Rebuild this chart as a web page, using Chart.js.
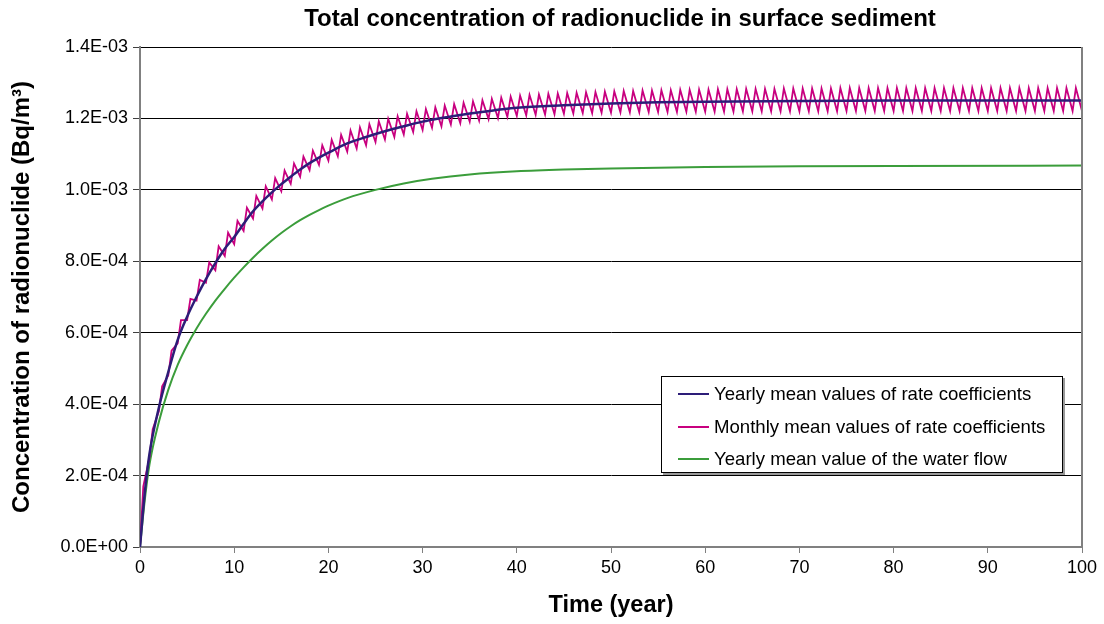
<!DOCTYPE html>
<html>
<head>
<meta charset="utf-8">
<script src="https://cdn.jsdelivr.net/npm/chart.js"></script>
<style>
  body { margin: 0; background: #fff; }
  #wrap { position: relative; width: 1104px; height: 624px; }
  #title {
    position: absolute; left: 0; top: 4px; width: 1240px; text-align: center;
    font-family: "Liberation Sans", Arial, sans-serif; font-size: 24px; font-weight: bold; color: #000;
    line-height: 28px; white-space: nowrap;
  }
  #legend {
    position: absolute; left: 661px; top: 376px; width: 400px; height: 95px;
    border: 1px solid #000; background: #fff; box-shadow: 2px 2px 0 #999;
    font-family: "Liberation Sans", Arial, sans-serif; font-size: 18.6px; color: #000;
  }
  #legend .row { position: absolute; left: 16px; height: 22px; line-height: 22px; white-space: nowrap; }
  #legend .row span.swatch { display: inline-block; width: 31px; height: 0; border-top: 2px solid; vertical-align: middle; margin-right: 5px; position: relative; top: -1px; }
</style>
</head>
<body>
<div id="wrap">
  <canvas id="chart" width="1104" height="624"></canvas>
  <div id="title">Total concentration of radionuclide in surface sediment</div>
  <div id="legend"></div>
</div>
<script>
// concentrations in units of 1E-03 Bq/m3
const yearlyYears = [0, 0.5, 1, 2, 3, 4, 5, 6, 7, 8, 9, 10, 11, 12, 13, 14, 15, 16, 17, 18, 19, 20,
  22, 24, 26, 28, 30, 32, 35, 38, 40, 45, 50, 55, 60, 70, 80, 90, 100];
const yearlyValues = [0, 0.15, 0.26, 0.39, 0.49, 0.58, 0.645, 0.70, 0.75, 0.795, 0.835, 0.868, 0.905, 0.94, 0.968, 0.993, 1.016, 1.037, 1.057, 1.075, 1.090, 1.104,
  1.13, 1.148, 1.164, 1.178, 1.191, 1.201, 1.214, 1.224, 1.230, 1.237, 1.242, 1.245, 1.247, 1.249, 1.250, 1.250, 1.250];

// monthly run: low point at the start of each year, high point a few months later
const monthlyYears = [];
for (let y = 0; y <= 100; y++) monthlyYears.push(y);
const monthlyLow = [
  0.000, 0.25, 0.38, 0.48, 0.57, 0.635, 0.69, 0.74, 0.775, 0.815,
  0.848, 0.885, 0.92, 0.948, 0.973, 0.996, 1.017, 1.037, 1.055, 1.070,
  1.082, 1.094, 1.107, 1.116, 1.125, 1.134, 1.141, 1.148, 1.155, 1.162,
  1.168, 1.174, 1.178, 1.183, 1.187, 1.191, 1.194, 1.198, 1.201, 1.204,
  1.207, 1.209, 1.210, 1.211, 1.212, 1.213, 1.214, 1.215, 1.215, 1.216,
  1.216, 1.217, 1.217, 1.217, 1.218, 1.218, 1.218, 1.218, 1.219, 1.219,
  1.219, 1.219, 1.219, 1.219, 1.220, 1.220, 1.220, 1.220, 1.220, 1.220,
  1.220, 1.220, 1.220, 1.220, 1.220, 1.221, 1.221, 1.221, 1.221, 1.221,
  1.221, 1.221, 1.221, 1.221, 1.221, 1.221, 1.221, 1.221, 1.221, 1.221,
  1.221, 1.221, 1.221, 1.221, 1.221, 1.221, 1.221, 1.221, 1.221, 1.221,
  1.221];
const monthlyHigh = [
  0.17, 0.33, 0.45, 0.55, 0.635, 0.695, 0.748, 0.797, 0.842, 0.88,
  0.913, 0.95, 0.983, 1.010, 1.033, 1.054, 1.074, 1.093, 1.110, 1.125,
  1.140, 1.154, 1.166, 1.175, 1.184, 1.192, 1.199, 1.206, 1.213, 1.220,
  1.226, 1.231, 1.236, 1.240, 1.244, 1.248, 1.251, 1.255, 1.258, 1.261,
  1.264, 1.266, 1.267, 1.269, 1.270, 1.271, 1.272, 1.273, 1.274, 1.275,
  1.276, 1.277, 1.277, 1.278, 1.278, 1.279, 1.279, 1.280, 1.280, 1.281,
  1.281, 1.282, 1.282, 1.282, 1.283, 1.283, 1.283, 1.283, 1.284, 1.284,
  1.284, 1.284, 1.284, 1.284, 1.285, 1.285, 1.285, 1.285, 1.285, 1.285,
  1.285, 1.285, 1.285, 1.285, 1.285, 1.285, 1.285, 1.285, 1.285, 1.285,
  1.285, 1.285, 1.285, 1.285, 1.285, 1.285, 1.285, 1.285, 1.285, 1.285];
const peakLag = 0.35; // years

const flowYears = [0, 0.5, 1, 2, 3, 4, 5, 6, 7, 8, 9, 10, 11, 12, 13, 14, 15, 16, 17, 18, 19, 20,
  22, 25, 28, 31, 35, 40, 45, 50, 60, 70, 80, 100];
const flowValues = [0, 0.13, 0.23, 0.35, 0.44, 0.51, 0.565, 0.612, 0.653, 0.69, 0.723, 0.754, 0.783, 0.81, 0.835, 0.858, 0.879, 0.898, 0.915, 0.93, 0.9435, 0.956,
  0.977, 1.0, 1.018, 1.031, 1.043, 1.052, 1.057, 1.060, 1.064, 1.066, 1.067, 1.068];

const yTickLabels = ["0.0E+00", "2.0E-04", "4.0E-04", "6.0E-04", "8.0E-04", "1.0E-03", "1.2E-03", "1.4E-03"];
const seriesNames = [
  "Yearly mean values of rate coefficients",
  "Monthly mean values of rate coefficients",
  "Yearly mean value of the water flow"
];
const colors = ["#2d1d78", "#c8007f", "#3b9d3b"];

const monthlyPoints = [];
monthlyYears.forEach((yr, i) => {
  monthlyPoints.push({ x: yr, y: monthlyLow[i] });
  if (i < monthlyHigh.length) monthlyPoints.push({ x: yr + peakLag, y: monthlyHigh[i] });
});

const font = "'Liberation Sans', Arial, sans-serif";

const frame = {
  id: "frame",
  afterDatasetsDraw(chart) {
    const { ctx, chartArea: a } = chart;
    ctx.save();
    ctx.strokeStyle = "#808080";
    ctx.lineWidth = 2;
    ctx.beginPath();
    ctx.moveTo(a.right, a.top);
    ctx.lineTo(a.right, a.bottom);
    ctx.stroke();
    ctx.restore();
  }
};

new Chart(document.getElementById("chart"), {
  type: "line",
  data: {
    datasets: [
      { label: seriesNames[0], data: yearlyYears.map((x, i) => ({ x, y: yearlyValues[i] })),
        borderColor: colors[0], borderWidth: 2.5, pointRadius: 0, cubicInterpolationMode: "monotone" },
      { label: seriesNames[1], data: monthlyPoints,
        borderColor: colors[1], borderWidth: 1.8, pointRadius: 0, tension: 0 },
      { label: seriesNames[2], data: flowYears.map((x, i) => ({ x, y: flowValues[i] })),
        borderColor: colors[2], borderWidth: 2, pointRadius: 0, cubicInterpolationMode: "monotone" }
    ]
  },
  options: {
    responsive: false,
    animation: false,
    layout: { padding: { left: 0, right: 22, top: 47, bottom: 0 } },
    plugins: {
      legend: { display: false },
      tooltip: { enabled: false },
      title: { display: false }
    },
    scales: {
      x: {
        type: "linear", min: 0, max: 100,
        ticks: { stepSize: 10, color: "#000", font: { family: font, size: 18 }, padding: 4, maxRotation: 0 },
        grid: { drawOnChartArea: false, drawTicks: true, tickLength: 6, tickColor: "#808080" },
        border: { color: "#808080", width: 2 },
        title: { display: true, text: "Time (year)", color: "#000",
          font: { family: font, size: 23.5, weight: "bold" }, padding: { top: 0, bottom: 4 } },
        afterFit(s) { s.height = 77; }
      },
      y: {
        min: 0, max: 1.4,
        ticks: { stepSize: 0.2, color: "#000", font: { family: font, size: 18 }, padding: 5,
          callback: (v, i) => yTickLabels[i] },
        grid: { color: "#000", lineWidth: 1, tickLength: 7, tickColor: "#404040" },
        border: { color: "#808080", width: 2 },
        title: { display: true, text: "Concentration of radionuclide (Bq/m\u00b3)", color: "#000",
          font: { family: font, size: 24, weight: "bold" }, padding: { top: 8, bottom: 0 } },
        afterFit(s) { s.width = 140; }
      }
    }
  },
  plugins: [frame]
});

const legend = document.getElementById("legend");
seriesNames.forEach((name, i) => {
  const row = document.createElement("div");
  row.className = "row";
  row.style.top = (6 + i * 32.5) + "px";
  row.innerHTML = '<span class="swatch" style="border-color:' + colors[i] + '"></span>' + name;
  legend.appendChild(row);
});
</script>
</body>
</html>
